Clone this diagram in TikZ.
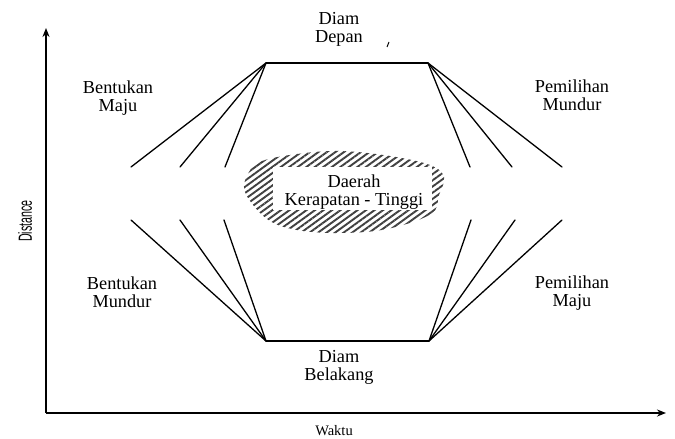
\documentclass[tikz,border=0pt]{standalone}
\usepackage{fontspec}
\usepackage{graphicx}
\setmainfont{Liberation Serif}
\newfontfamily\axsans{Liberation Sans}
\usetikzlibrary{arrows.meta,patterns.meta}
\begin{document}
\begin{tikzpicture}[x=1pt,y=-1pt,
  lbl/.style={align=center,font=\fontsize{18.3}{18}\selectfont,inner sep=0pt},
  ray/.style={line width=1.3pt,line cap=round},
  axis/.style={line width=1.8pt,-{Stealth[length=9pt,width=7pt]}},
  hatch/.style={pattern={Lines[angle=36,distance=5pt,line width=1.9pt]},pattern color=black!75}]
\useasboundingbox[fill=white] (0,0) rectangle (675,439);
% axes
\coordinate (O) at (46,413);
\coordinate (Ytop) at (46,28);
\coordinate (Xend) at (666,413);
\draw[axis] (O) -- (Ytop);
\draw[axis] (O) -- (Xend);
\node[font=\axsans\fontsize{19}{20}\selectfont,rotate=90,inner sep=0pt] (dist) at (25,221) {\scalebox{0.56}[1]{Distance}};
\node[font=\fontsize{14.5}{16}\selectfont,anchor=base,inner sep=0pt] (waktu) at (334,435) {Waktu};
% corners
\coordinate (TL) at (266,63);
\coordinate (TR) at (428,63);
\coordinate (BL) at (266,341);
\coordinate (BR) at (429,341);
\draw[ray] (TL) -- (TR);
\draw[ray] (BL) -- (BR);
% top-left fan
\coordinate (a1) at (131,167); \coordinate (a2) at (180,167); \coordinate (a3) at (225,167);
\draw[ray] (TL) -- (a1); \draw[ray] (TL) -- (a2); \draw[ray] (TL) -- (a3);
% bottom-left fan
\coordinate (b1) at (131,220); \coordinate (b2) at (180,220); \coordinate (b3) at (224,220);
\draw[ray] (BL) -- (b1); \draw[ray] (BL) -- (b2); \draw[ray] (BL) -- (b3);
% top-right fan
\coordinate (c1) at (470,167); \coordinate (c2) at (512,167); \coordinate (c3) at (562,167);
\draw[ray] (TR) -- (c1); \draw[ray] (TR) -- (c2); \draw[ray] (TR) -- (c3);
% bottom-right fan
\coordinate (d1) at (471,220); \coordinate (d2) at (515,220); \coordinate (d3) at (562,220);
\draw[ray] (BR) -- (d1); \draw[ray] (BR) -- (d2); \draw[ray] (BR) -- (d3);
% labels
\node[lbl] (dd) at (339,29.7) {Diam\\Depan};
\node[lbl] (db) at (339,367.7) {Diam\\Belakang};
\node[lbl] (bm) at (118,97.7) {Bentukan\\Maju};
\node[lbl] (bmu) at (122,292.7) {Bentukan\\Mundur};
\node[lbl] (pmu) at (572,95.7) {Pemilihan\\Mundur};
\node[lbl] (pm) at (572,292.7) {Pemilihan\\Maju};
% speck
\coordinate (s1) at (389,42); \coordinate (s2) at (387,47);
\draw[line width=1pt] (s1) -- (s2);
% hatched region
\path[hatch] plot[smooth cycle,tension=0.6] coordinates {
 (249,172) (262,161) (297,154) (340,151) (390,156) (430,165) (444,177)
 (439,195) (431,214) (387,229) (340,233) (297,230) (267,219) (245,192)};
\node[fill=white,minimum width=159pt,minimum height=43pt,inner sep=0pt] (box) at (352.5,188.5) {};
\node[lbl] (dk) at (354,191.7) {Daerah\\Kerapatan - Tinggi};
\end{tikzpicture}
\end{document}
